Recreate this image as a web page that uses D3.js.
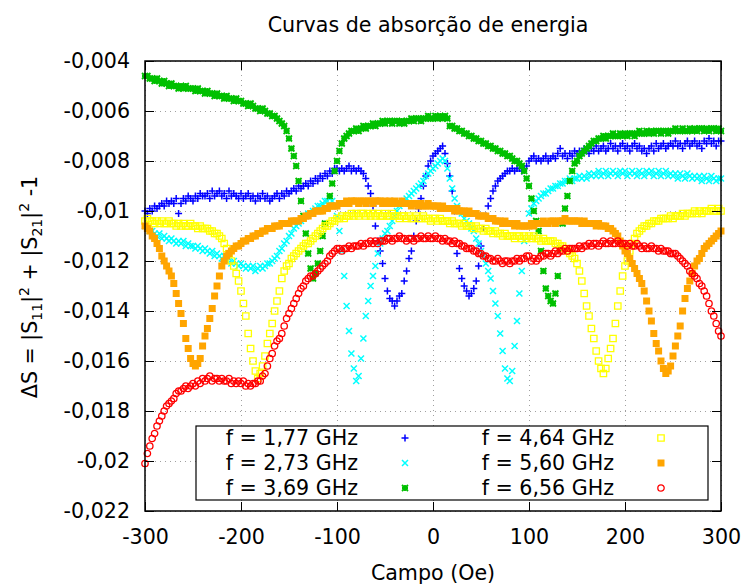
<!DOCTYPE html>
<html>
<head>
<meta charset="utf-8">
<script src="https://cdn.jsdelivr.net/npm/d3@7"></script>
<style>
  body { margin: 0; background: #fff; }
  svg { display: block; font-family: "DejaVu Sans", sans-serif; }
</style>
</head>
<body>
<svg id="chart" width="746" height="586"></svg>
<script>
// campo magnetico (Oe), passo de 2,5 Oe: -300 ... 300
const campo = d3.range(-300, 302.5, 2.5);

// f = 1,77 GHz (cada linha = 50 Oe)
const f177 = [
  -0.0100,-0.0101,-0.0099,-0.0100,-0.0098,-0.0099,-0.0098,-0.0097,-0.0098,-0.0096,-0.0097,-0.0096,-0.0097,-0.0095,-0.0101,-0.0097,-0.0095,-0.0096,-0.0094,-0.0095,
  -0.0096,-0.0094,-0.0095,-0.0093,-0.0094,-0.0094,-0.0093,-0.0095,-0.0092,-0.0094,-0.0093,-0.0092,-0.0094,-0.0093,-0.0095,-0.0092,-0.0094,-0.0093,-0.0094,-0.0095,
  -0.0093,-0.0095,-0.0094,-0.0093,-0.0095,-0.0094,-0.0096,-0.0094,-0.0095,-0.0093,-0.0095,-0.0094,-0.0096,-0.0095,-0.0094,-0.0093,-0.0095,-0.0093,-0.0094,-0.0092,
  -0.0093,-0.0092,-0.0091,-0.0092,-0.0090,-0.0091,-0.0090,-0.0089,-0.0090,-0.0088,-0.0089,-0.0087,-0.0088,-0.0086,-0.0087,-0.0085,-0.0086,-0.0084,-0.0085,-0.0083,
  -0.0083,-0.0084,-0.0083,-0.0084,-0.0083,-0.0082,-0.0084,-0.0083,-0.0084,-0.0083,-0.0084,-0.0085,-0.0087,-0.0090,-0.0093,-0.0098,-0.0106,-0.0112,-0.0116,-0.0121,
  -0.0127,-0.0132,-0.0135,-0.0136,-0.0138,-0.0136,-0.0134,-0.0133,-0.0128,-0.0124,-0.0119,-0.0116,-0.0110,-0.0104,-0.0099,-0.0095,-0.0090,-0.0086,-0.0082,-0.0080,
  -0.0078,-0.0077,-0.0076,-0.0075,-0.0074,-0.0077,-0.0081,-0.0086,-0.0092,-0.0100,-0.0117,-0.0123,-0.0127,-0.0130,-0.0132,-0.0134,-0.0133,-0.0131,-0.0128,-0.0122,
  -0.0114,-0.0107,-0.0102,-0.0098,-0.0095,-0.0092,-0.0090,-0.0088,-0.0087,-0.0086,-0.0085,-0.0084,-0.0084,-0.0083,-0.0084,-0.0083,-0.0083,-0.0084,-0.0083,-0.0082,
  -0.0080,-0.0079,-0.0078,-0.0080,-0.0079,-0.0080,-0.0079,-0.0078,-0.0080,-0.0079,-0.0078,-0.0079,-0.0077,-0.0075,-0.0078,-0.0077,-0.0079,-0.0077,-0.0078,-0.0076,
  -0.0077,-0.0076,-0.0077,-0.0075,-0.0076,-0.0077,-0.0075,-0.0076,-0.0074,-0.0076,-0.0075,-0.0074,-0.0076,-0.0075,-0.0073,-0.0075,-0.0074,-0.0076,-0.0074,-0.0073,
  -0.0075,-0.0074,-0.0076,-0.0074,-0.0073,-0.0075,-0.0074,-0.0076,-0.0075,-0.0077,-0.0075,-0.0074,-0.0076,-0.0073,-0.0075,-0.0074,-0.0073,-0.0075,-0.0074,-0.0073,
  -0.0074,-0.0072,-0.0074,-0.0073,-0.0075,-0.0073,-0.0072,-0.0074,-0.0073,-0.0072,-0.0074,-0.0073,-0.0075,-0.0072,-0.0073,-0.0071,-0.0073,-0.0072,-0.0074,-0.0072,
  -0.0072
];

// f = 2,73 GHz
const f273 = [
  -0.0106,-0.0107,-0.0108,-0.0108,-0.0109,-0.0110,-0.0109,-0.0111,-0.0110,-0.0111,-0.0112,-0.0111,-0.0112,-0.0113,-0.0112,-0.0113,-0.0112,-0.0114,-0.0113,-0.0114,
  -0.0114,-0.0115,-0.0114,-0.0115,-0.0116,-0.0115,-0.0116,-0.0117,-0.0116,-0.0118,-0.0117,-0.0118,-0.0119,-0.0118,-0.0120,-0.0119,-0.0121,-0.0120,-0.0121,-0.0122,
  -0.0121,-0.0122,-0.0123,-0.0122,-0.0123,-0.0122,-0.0124,-0.0123,-0.0122,-0.0123,-0.0122,-0.0121,-0.0121,-0.0120,-0.0119,-0.0118,-0.0116,-0.0115,-0.0113,-0.0112,
  -0.0110,-0.0109,-0.0107,-0.0106,-0.0105,-0.0104,-0.0103,-0.0102,-0.0101,-0.0101,-0.0100,-0.0099,-0.0098,-0.0098,-0.0097,-0.0096,-0.0096,-0.0095,-0.0096,-0.0098,
  -0.0102,-0.0108,-0.0116,-0.0126,-0.0138,-0.0148,-0.0157,-0.0163,-0.0168,-0.0166,-0.0159,-0.0151,-0.0142,-0.0136,-0.0130,-0.0126,-0.0122,-0.0117,-0.0113,-0.0111,
  -0.0109,-0.0108,-0.0106,-0.0104,-0.0102,-0.0100,-0.0098,-0.0097,-0.0096,-0.0095,-0.0094,-0.0093,-0.0092,-0.0091,-0.0090,-0.0089,-0.0088,-0.0086,-0.0085,-0.0084,
  -0.0083,-0.0082,-0.0081,-0.0080,-0.0079,-0.0080,-0.0083,-0.0087,-0.0091,-0.0095,-0.0098,-0.0100,-0.0101,-0.0103,-0.0104,-0.0105,-0.0107,-0.0108,-0.0111,-0.0113,
  -0.0116,-0.0118,-0.0121,-0.0124,-0.0127,-0.0132,-0.0137,-0.0142,-0.0149,-0.0156,-0.0163,-0.0167,-0.0168,-0.0164,-0.0154,-0.0144,-0.0133,-0.0124,-0.0112,-0.0106,
  -0.0101,-0.0099,-0.0097,-0.0096,-0.0095,-0.0094,-0.0093,-0.0093,-0.0092,-0.0091,-0.0091,-0.0090,-0.0090,-0.0089,-0.0089,-0.0088,-0.0088,-0.0087,-0.0088,-0.0087,
  -0.0087,-0.0086,-0.0087,-0.0086,-0.0087,-0.0085,-0.0086,-0.0085,-0.0086,-0.0084,-0.0086,-0.0085,-0.0084,-0.0086,-0.0085,-0.0084,-0.0085,-0.0086,-0.0084,-0.0085,
  -0.0084,-0.0086,-0.0085,-0.0084,-0.0085,-0.0086,-0.0084,-0.0085,-0.0086,-0.0084,-0.0085,-0.0084,-0.0086,-0.0085,-0.0084,-0.0086,-0.0085,-0.0084,-0.0086,-0.0085,
  -0.0086,-0.0085,-0.0087,-0.0085,-0.0086,-0.0087,-0.0085,-0.0086,-0.0087,-0.0086,-0.0087,-0.0086,-0.0088,-0.0086,-0.0087,-0.0088,-0.0086,-0.0087,-0.0088,-0.0087,
  -0.0087
];

// f = 3,69 GHz
const f369 = [
  -0.0046,-0.0046,-0.0047,-0.0047,-0.0048,-0.0047,-0.0048,-0.0049,-0.0048,-0.0049,-0.0050,-0.0049,-0.0050,-0.0050,-0.0051,-0.0050,-0.0051,-0.0050,-0.0051,-0.0051,
  -0.0051,-0.0052,-0.0051,-0.0052,-0.0052,-0.0053,-0.0052,-0.0053,-0.0053,-0.0054,-0.0053,-0.0054,-0.0054,-0.0055,-0.0054,-0.0055,-0.0055,-0.0056,-0.0055,-0.0056,
  -0.0056,-0.0057,-0.0057,-0.0058,-0.0057,-0.0058,-0.0059,-0.0059,-0.0060,-0.0059,-0.0060,-0.0061,-0.0061,-0.0062,-0.0062,-0.0063,-0.0064,-0.0065,-0.0066,-0.0068,
  -0.0071,-0.0075,-0.0078,-0.0082,-0.0088,-0.0096,-0.0102,-0.0109,-0.0117,-0.0123,-0.0127,-0.0125,-0.0121,-0.0116,-0.0110,-0.0105,-0.0099,-0.0094,-0.0089,-0.0084,
  -0.0080,-0.0076,-0.0073,-0.0071,-0.0070,-0.0069,-0.0068,-0.0068,-0.0067,-0.0068,-0.0067,-0.0066,-0.0067,-0.0066,-0.0066,-0.0065,-0.0066,-0.0065,-0.0065,-0.0064,
  -0.0065,-0.0064,-0.0064,-0.0065,-0.0064,-0.0064,-0.0065,-0.0064,-0.0065,-0.0064,-0.0064,-0.0063,-0.0064,-0.0063,-0.0063,-0.0064,-0.0063,-0.0063,-0.0062,-0.0063,
  -0.0063,-0.0062,-0.0063,-0.0062,-0.0063,-0.0062,-0.0063,-0.0066,-0.0066,-0.0067,-0.0067,-0.0068,-0.0068,-0.0069,-0.0069,-0.0070,-0.0070,-0.0071,-0.0071,-0.0072,
  -0.0072,-0.0073,-0.0073,-0.0074,-0.0074,-0.0075,-0.0075,-0.0076,-0.0076,-0.0077,-0.0077,-0.0078,-0.0078,-0.0079,-0.0080,-0.0080,-0.0081,-0.0082,-0.0084,-0.0087,
  -0.0090,-0.0095,-0.0100,-0.0104,-0.0108,-0.0116,-0.0124,-0.0131,-0.0134,-0.0136,-0.0137,-0.0133,-0.0126,-0.0115,-0.0105,-0.0099,-0.0094,-0.0088,-0.0084,-0.0081,
  -0.0080,-0.0078,-0.0077,-0.0076,-0.0075,-0.0074,-0.0073,-0.0072,-0.0072,-0.0071,-0.0071,-0.0070,-0.0071,-0.0070,-0.0070,-0.0069,-0.0070,-0.0070,-0.0069,-0.0070,
  -0.0069,-0.0070,-0.0069,-0.0069,-0.0070,-0.0069,-0.0068,-0.0069,-0.0069,-0.0068,-0.0069,-0.0068,-0.0069,-0.0068,-0.0068,-0.0069,-0.0068,-0.0068,-0.0069,-0.0068,
  -0.0068,-0.0067,-0.0068,-0.0068,-0.0067,-0.0068,-0.0068,-0.0067,-0.0068,-0.0067,-0.0068,-0.0067,-0.0067,-0.0068,-0.0067,-0.0068,-0.0067,-0.0067,-0.0068,-0.0067,
  -0.0068
];

// f = 4,64 GHz
const f464 = [
  -0.0104,-0.0103,-0.0104,-0.0104,-0.0105,-0.0104,-0.0105,-0.0104,-0.0105,-0.0105,-0.0104,-0.0105,-0.0105,-0.0106,-0.0105,-0.0106,-0.0105,-0.0106,-0.0106,-0.0105,
  -0.0106,-0.0106,-0.0107,-0.0106,-0.0107,-0.0107,-0.0107,-0.0108,-0.0108,-0.0109,-0.0109,-0.0110,-0.0111,-0.0113,-0.0115,-0.0117,-0.0120,-0.0122,-0.0125,-0.0128,
  -0.0132,-0.0137,-0.0142,-0.0149,-0.0155,-0.0160,-0.0164,-0.0167,-0.0165,-0.0162,-0.0158,-0.0153,-0.0149,-0.0145,-0.0140,-0.0136,-0.0132,-0.0127,-0.0124,-0.0122,
  -0.0121,-0.0119,-0.0118,-0.0117,-0.0116,-0.0115,-0.0114,-0.0113,-0.0113,-0.0112,-0.0111,-0.0110,-0.0109,-0.0108,-0.0107,-0.0106,-0.0106,-0.0105,-0.0104,-0.0104,
  -0.0103,-0.0103,-0.0102,-0.0103,-0.0102,-0.0102,-0.0101,-0.0102,-0.0101,-0.0102,-0.0101,-0.0101,-0.0102,-0.0101,-0.0102,-0.0101,-0.0102,-0.0101,-0.0102,-0.0102,
  -0.0101,-0.0102,-0.0102,-0.0101,-0.0102,-0.0102,-0.0103,-0.0102,-0.0102,-0.0103,-0.0102,-0.0103,-0.0103,-0.0102,-0.0103,-0.0103,-0.0102,-0.0103,-0.0103,-0.0104,
  -0.0103,-0.0103,-0.0104,-0.0103,-0.0104,-0.0104,-0.0104,-0.0105,-0.0104,-0.0105,-0.0105,-0.0105,-0.0106,-0.0105,-0.0106,-0.0106,-0.0106,-0.0107,-0.0106,-0.0107,
  -0.0107,-0.0108,-0.0107,-0.0108,-0.0108,-0.0109,-0.0108,-0.0109,-0.0109,-0.0110,-0.0109,-0.0110,-0.0110,-0.0110,-0.0111,-0.0110,-0.0110,-0.0111,-0.0110,-0.0111,
  -0.0110,-0.0111,-0.0110,-0.0111,-0.0111,-0.0112,-0.0111,-0.0112,-0.0112,-0.0112,-0.0112,-0.0113,-0.0113,-0.0114,-0.0114,-0.0115,-0.0116,-0.0117,-0.0118,-0.0119,
  -0.0121,-0.0124,-0.0128,-0.0133,-0.0138,-0.0142,-0.0147,-0.0151,-0.0156,-0.0160,-0.0163,-0.0165,-0.0163,-0.0159,-0.0155,-0.0151,-0.0145,-0.0138,-0.0132,-0.0126,
  -0.0122,-0.0120,-0.0116,-0.0113,-0.0111,-0.0109,-0.0108,-0.0107,-0.0106,-0.0106,-0.0105,-0.0105,-0.0104,-0.0104,-0.0104,-0.0103,-0.0103,-0.0103,-0.0103,-0.0102,
  -0.0103,-0.0102,-0.0102,-0.0102,-0.0101,-0.0102,-0.0101,-0.0101,-0.0101,-0.0100,-0.0101,-0.0100,-0.0101,-0.0100,-0.0100,-0.0100,-0.0099,-0.0100,-0.0100,-0.0099,
  -0.0100
];

// f = 5,60 GHz
const f560 = [
  -0.0106,-0.0107,-0.0108,-0.0110,-0.0111,-0.0113,-0.0115,-0.0118,-0.0120,-0.0122,-0.0124,-0.0126,-0.0129,-0.0133,-0.0137,-0.0141,-0.0145,-0.0151,-0.0155,-0.0159,
  -0.0161,-0.0162,-0.0161,-0.0159,-0.0154,-0.0150,-0.0147,-0.0143,-0.0139,-0.0134,-0.0130,-0.0126,-0.0122,-0.0120,-0.0118,-0.0117,-0.0116,-0.0115,-0.0114,-0.0114,
  -0.0113,-0.0112,-0.0112,-0.0111,-0.0111,-0.0110,-0.0110,-0.0109,-0.0109,-0.0108,-0.0108,-0.0107,-0.0107,-0.0107,-0.0106,-0.0106,-0.0106,-0.0105,-0.0105,-0.0105,
  -0.0105,-0.0104,-0.0104,-0.0104,-0.0104,-0.0103,-0.0103,-0.0102,-0.0102,-0.0101,-0.0101,-0.0100,-0.0100,-0.0100,-0.0100,-0.0099,-0.0099,-0.0098,-0.0098,-0.0098,
  -0.0098,-0.0097,-0.0097,-0.0097,-0.0096,-0.0097,-0.0096,-0.0096,-0.0096,-0.0097,-0.0096,-0.0096,-0.0097,-0.0096,-0.0096,-0.0097,-0.0096,-0.0096,-0.0096,-0.0097,
  -0.0096,-0.0097,-0.0096,-0.0097,-0.0096,-0.0097,-0.0097,-0.0096,-0.0097,-0.0097,-0.0097,-0.0098,-0.0097,-0.0097,-0.0098,-0.0097,-0.0098,-0.0098,-0.0097,-0.0098,
  -0.0098,-0.0098,-0.0098,-0.0099,-0.0098,-0.0099,-0.0099,-0.0099,-0.0099,-0.0100,-0.0099,-0.0100,-0.0100,-0.0100,-0.0101,-0.0100,-0.0101,-0.0101,-0.0101,-0.0102,
  -0.0102,-0.0102,-0.0102,-0.0103,-0.0103,-0.0103,-0.0104,-0.0104,-0.0104,-0.0105,-0.0104,-0.0105,-0.0105,-0.0105,-0.0106,-0.0105,-0.0106,-0.0106,-0.0106,-0.0106,
  -0.0106,-0.0105,-0.0106,-0.0105,-0.0105,-0.0105,-0.0104,-0.0105,-0.0105,-0.0104,-0.0104,-0.0105,-0.0104,-0.0104,-0.0104,-0.0103,-0.0104,-0.0104,-0.0104,-0.0104,
  -0.0104,-0.0104,-0.0105,-0.0104,-0.0105,-0.0105,-0.0105,-0.0105,-0.0106,-0.0105,-0.0106,-0.0106,-0.0106,-0.0107,-0.0107,-0.0108,-0.0109,-0.0110,-0.0112,-0.0114,
  -0.0116,-0.0117,-0.0119,-0.0121,-0.0123,-0.0125,-0.0127,-0.0129,-0.0132,-0.0136,-0.0140,-0.0144,-0.0149,-0.0153,-0.0156,-0.0160,-0.0163,-0.0165,-0.0164,-0.0162,
  -0.0158,-0.0154,-0.0150,-0.0146,-0.0140,-0.0135,-0.0131,-0.0128,-0.0125,-0.0122,-0.0120,-0.0119,-0.0117,-0.0115,-0.0114,-0.0113,-0.0112,-0.0111,-0.0110,-0.0109,
  -0.0108
];

// f = 6,56 GHz
const f656 = [
  -0.0201,-0.0197,-0.0194,-0.0191,-0.0189,-0.0186,-0.0184,-0.0182,-0.0180,-0.0178,-0.0177,-0.0176,-0.0175,-0.0173,-0.0172,-0.0172,-0.0171,-0.0170,-0.0171,-0.0170,
  -0.0169,-0.0170,-0.0168,-0.0169,-0.0167,-0.0168,-0.0167,-0.0166,-0.0168,-0.0167,-0.0167,-0.0168,-0.0167,-0.0168,-0.0168,-0.0167,-0.0169,-0.0168,-0.0169,-0.0168,
  -0.0169,-0.0168,-0.0170,-0.0169,-0.0170,-0.0169,-0.0169,-0.0168,-0.0168,-0.0166,-0.0165,-0.0162,-0.0159,-0.0157,-0.0154,-0.0152,-0.0151,-0.0149,-0.0146,-0.0143,
  -0.0141,-0.0139,-0.0137,-0.0135,-0.0133,-0.0131,-0.0130,-0.0128,-0.0127,-0.0126,-0.0126,-0.0125,-0.0124,-0.0123,-0.0122,-0.0121,-0.0120,-0.0118,-0.0117,-0.0116,
  -0.0115,-0.0115,-0.0116,-0.0115,-0.0115,-0.0114,-0.0115,-0.0114,-0.0114,-0.0114,-0.0113,-0.0114,-0.0113,-0.0113,-0.0112,-0.0113,-0.0112,-0.0113,-0.0112,-0.0112,
  -0.0112,-0.0111,-0.0111,-0.0112,-0.0111,-0.0111,-0.0110,-0.0111,-0.0111,-0.0112,-0.0111,-0.0111,-0.0112,-0.0111,-0.0111,-0.0110,-0.0111,-0.0111,-0.0110,-0.0111,
  -0.0111,-0.0110,-0.0111,-0.0111,-0.0112,-0.0111,-0.0112,-0.0112,-0.0113,-0.0112,-0.0113,-0.0113,-0.0114,-0.0114,-0.0115,-0.0115,-0.0115,-0.0116,-0.0116,-0.0117,
  -0.0117,-0.0118,-0.0118,-0.0119,-0.0119,-0.0120,-0.0120,-0.0119,-0.0120,-0.0121,-0.0120,-0.0120,-0.0121,-0.0120,-0.0120,-0.0119,-0.0120,-0.0119,-0.0119,-0.0118,
  -0.0118,-0.0120,-0.0119,-0.0120,-0.0119,-0.0118,-0.0118,-0.0117,-0.0117,-0.0118,-0.0117,-0.0116,-0.0117,-0.0116,-0.0116,-0.0115,-0.0116,-0.0115,-0.0115,-0.0115,
  -0.0115,-0.0114,-0.0115,-0.0114,-0.0114,-0.0113,-0.0114,-0.0113,-0.0113,-0.0114,-0.0113,-0.0112,-0.0113,-0.0113,-0.0112,-0.0113,-0.0113,-0.0112,-0.0113,-0.0113,
  -0.0113,-0.0114,-0.0113,-0.0114,-0.0114,-0.0113,-0.0114,-0.0115,-0.0114,-0.0115,-0.0115,-0.0114,-0.0115,-0.0115,-0.0116,-0.0115,-0.0116,-0.0116,-0.0116,-0.0117,
  -0.0117,-0.0117,-0.0118,-0.0119,-0.0120,-0.0121,-0.0122,-0.0124,-0.0125,-0.0126,-0.0127,-0.0129,-0.0130,-0.0132,-0.0134,-0.0137,-0.0140,-0.0142,-0.0145,-0.0148,
  -0.0150
];

const legendLabels = ["f = 1,77 GHz", "f = 2,73 GHz", "f = 3,69 GHz",
                      "f = 4,64 GHz", "f = 5,60 GHz", "f = 6,56 GHz"];
const xTicks = [-300, -200, -100, 0, 100, 200, 300];
const yTicks = [-0.004, -0.006, -0.008, -0.010, -0.012, -0.014, -0.016, -0.018, -0.020, -0.022];
const yTickLabels = ["-0,004", "-0,006", "-0,008", "-0,01", "-0,012",
                     "-0,014", "-0,016", "-0,018", "-0,02", "-0,022"];

const series = [
  { label: legendLabels[0], values: f177, color: "#0000ff", marker: "plus" },
  { label: legendLabels[1], values: f273, color: "#00ffff", marker: "cross" },
  { label: legendLabels[2], values: f369, color: "#00c000", marker: "star" },
  { label: legendLabels[3], values: f464, color: "#ffff00", marker: "square" },
  { label: legendLabels[4], values: f560, color: "#ffa500", marker: "fsquare" },
  { label: legendLabels[5], values: f656, color: "#ff0000", marker: "circle" }
];

const plotL = 145, plotR = 721, plotT = 61, plotB = 511;
const svg = d3.select("#chart");

const x = d3.scaleLinear().domain([-300, 300]).range([plotL, plotR]);
const y = d3.scaleLinear().domain([-0.022, -0.004]).range([plotB, plotT]);

// grade pontilhada
const gridX = svg.append("g")
    .attr("transform", `translate(0,${plotB})`)
    .call(d3.axisBottom(x).tickValues(xTicks).tickSize(-(plotB - plotT)).tickFormat(""));
const gridY = svg.append("g")
    .attr("transform", `translate(${plotL},0)`)
    .call(d3.axisLeft(y).tickValues(yTicks).tickSize(-(plotR - plotL)).tickFormat(""));
[gridX, gridY].forEach(g => {
    g.select(".domain").remove();
    g.selectAll("line").attr("stroke", "#a0a0a0").attr("stroke-width", 1)
        .attr("stroke-dasharray", "1,4");
});

// marcadores estilo gnuplot
function markerPath(type, cx, cy) {
    let s;
    switch (type) {
        case "plus":
            s = 3.5;
            return `M${cx - s},${cy}H${cx + s}M${cx},${cy - s}V${cy + s}`;
        case "cross":
            s = 3;
            return `M${cx - s},${cy - s}L${cx + s},${cy + s}M${cx - s},${cy + s}L${cx + s},${cy - s}`;
        case "star":
            s = 3;
            return `M${cx - s},${cy}H${cx + s}M${cx},${cy - s}V${cy + s}` +
                   `M${cx - s},${cy - s}L${cx + s},${cy + s}M${cx - s},${cy + s}L${cx + s},${cy - s}`;
        case "square":
            s = 3.2;
            return `M${cx - s},${cy - s}h${2 * s}v${2 * s}h${-2 * s}Z`;
        case "fsquare":
            s = 3.5;
            return `M${cx - s},${cy - s}h${2 * s}v${2 * s}h${-2 * s}Z`;
        case "circle":
            s = 3.2;
            return `M${cx - s},${cy}a${s},${s} 0 1,0 ${2 * s},0a${s},${s} 0 1,0 ${-2 * s},0`;
    }
}

function styleMarker(sel, d) {
    sel.attr("fill", d.marker === "fsquare" ? d.color : "none")
       .attr("stroke", d.marker === "fsquare" ? "none" : d.color)
       .attr("stroke-width", d.marker === "star" ? 1.8 : (d.marker === "square" || d.marker === "circle") ? 1.3 : 1.5);
}

series.forEach(sr => {
    const g = svg.append("g");
    g.selectAll("path")
        .data(sr.values)
        .join("path")
        .attr("d", (v, i) => markerPath(sr.marker, x(campo[i]), y(v)))
        .call(styleMarker, sr);
});

// eixos com marcas para dentro
const fontSize = 20.6;
const axB = svg.append("g").attr("transform", `translate(0,${plotB})`)
    .call(d3.axisBottom(x).tickValues(xTicks).tickSize(-9).tickPadding(18).tickFormat(d => d));
const axL = svg.append("g").attr("transform", `translate(${plotL},0)`)
    .call(d3.axisLeft(y).tickValues(yTicks).tickSize(-9).tickPadding(15).tickFormat((d, i) => yTickLabels[i]));
const axT = svg.append("g").attr("transform", `translate(0,${plotT})`)
    .call(d3.axisTop(x).tickValues(xTicks).tickSize(-9).tickFormat(""));
const axR = svg.append("g").attr("transform", `translate(${plotR},0)`)
    .call(d3.axisRight(y).tickValues(yTicks).tickSize(-9).tickFormat(""));
[axB, axL, axT, axR].forEach(g => {
    g.select(".domain").remove();
    g.attr("font-family", "DejaVu Sans").attr("font-size", fontSize);
    g.selectAll("line").attr("stroke", "#000").attr("stroke-width", 1);
    g.selectAll("text").attr("fill", "#000");
});

svg.append("rect")
    .attr("x", plotL).attr("y", plotT)
    .attr("width", plotR - plotL).attr("height", plotB - plotT)
    .attr("fill", "none").attr("stroke", "#000").attr("stroke-width", 1.5);

// legenda
const legend = svg.append("g");
legend.append("rect")
    .attr("x", 196).attr("y", 426).attr("width", 512).attr("height", 74)
    .attr("fill", "#fff").attr("stroke", "#000").attr("stroke-width", 1.2);
series.forEach((sr, i) => {
    const col = Math.floor(i / 3), row = i % 3;
    legend.append("text")
        .attr("x", 358 + col * 256).attr("y", 445 + row * 25)
        .attr("text-anchor", "end").attr("font-size", fontSize)
        .text(sr.label);
    legend.append("path")
        .attr("d", markerPath(sr.marker, 405 + col * 256, 438 + row * 25))
        .call(styleMarker, sr);
});

// titulos
svg.append("text")
    .attr("x", 428).attr("y", 32).attr("text-anchor", "middle")
    .attr("font-size", fontSize)
    .text("Curvas de absorção de energia");

svg.append("text")
    .attr("x", 433).attr("y", 580).attr("text-anchor", "middle")
    .attr("font-size", fontSize)
    .text("Campo (Oe)");

const yl = svg.append("text")
    .attr("transform", "translate(37,287) rotate(-90)")
    .attr("text-anchor", "middle")
    .attr("font-size", fontSize);
yl.append("tspan").text("ΔS = |S");
yl.append("tspan").attr("dy", 5).attr("font-size", 14).text("11");
yl.append("tspan").attr("dy", -5).text("|");
yl.append("tspan").attr("dy", -8).attr("font-size", 14).text("2");
yl.append("tspan").attr("dy", 8).text(" + |S");
yl.append("tspan").attr("dy", 5).attr("font-size", 14).text("21");
yl.append("tspan").attr("dy", -5).text("|");
yl.append("tspan").attr("dy", -8).attr("font-size", 14).text("2");
yl.append("tspan").attr("dy", 8).text(" -1");
</script>
</body>
</html>
